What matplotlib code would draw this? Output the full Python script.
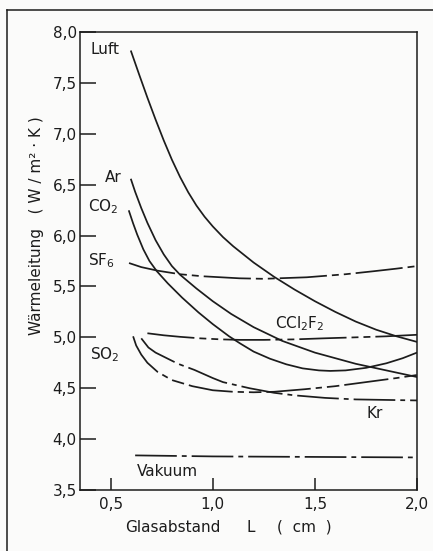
import matplotlib
matplotlib.use("Agg")
import matplotlib.pyplot as plt
from matplotlib.lines import Line2D

# values (L in cm, heat transfer in W/m2K)
luft_L = [0.60, 0.64, 0.68, 0.72, 0.76, 0.80, 0.84, 0.88, 0.92, 0.96, 1.00, 1.05, 1.10,
          1.20, 1.30, 1.40, 1.50, 1.60, 1.70, 1.80, 1.90, 2.00]
luft_v = [7.81, 7.58, 7.355, 7.14, 6.935, 6.745, 6.575, 6.425, 6.295, 6.185, 6.09, 5.985, 5.895,
          5.735, 5.595, 5.47, 5.355, 5.25, 5.155, 5.075, 5.01, 4.955]

ar_L = [0.60, 0.62, 0.65, 0.68, 0.72, 0.76, 0.80, 0.84, 0.92, 1.00, 1.09, 1.20, 1.34,
        1.50, 1.70, 1.85, 2.00]
ar_v = [6.55, 6.43, 6.27, 6.125, 5.955, 5.815, 5.70, 5.615, 5.48, 5.355, 5.23, 5.10, 4.965,
        4.85, 4.74, 4.675, 4.61]

co2_L = [0.59, 0.61, 0.63, 0.66, 0.69, 0.726, 0.78, 0.85, 0.93, 1.00, 1.08, 1.134, 1.20,
         1.28, 1.36, 1.44, 1.52, 1.575, 1.65, 1.75, 1.85, 1.93, 2.00]
co2_v = [6.24, 6.12, 6.01, 5.865, 5.75, 5.65, 5.53, 5.39, 5.245, 5.13, 5.01, 4.94, 4.86,
         4.79, 4.735, 4.695, 4.675, 4.67, 4.675, 4.70, 4.745, 4.795, 4.85]

sf6_L = [0.59, 0.65, 0.73, 0.84, 0.95, 1.13, 1.25, 1.46, 1.65, 1.79, 1.90, 2.00]
sf6_v = [5.73, 5.69, 5.655, 5.62, 5.60, 5.58, 5.575, 5.59, 5.62, 5.65, 5.675, 5.70]

ccl2f2_L = [0.68, 0.76, 0.84, 0.94, 1.04, 1.13, 1.25, 1.40, 1.54, 1.70, 1.85, 1.95, 2.00]
ccl2f2_v = [5.04, 5.02, 5.005, 4.99, 4.98, 4.975, 4.975, 4.98, 4.99, 5.00, 5.01, 5.02, 5.025]

so2_L = [0.61, 0.625, 0.65, 0.68, 0.73, 0.80, 0.90, 1.00, 1.10, 1.20, 1.30, 1.45, 1.60, 1.75, 1.90, 2.00]
so2_v = [5.01, 4.92, 4.83, 4.75, 4.66, 4.58, 4.52, 4.48, 4.465, 4.46, 4.465, 4.49, 4.52, 4.56, 4.60, 4.63]

kr_L = [0.65, 0.685, 0.72, 0.76, 0.83, 0.91, 1.00, 1.05, 1.18, 1.30, 1.40, 1.55, 1.70, 1.85, 2.00]
kr_v = [4.99, 4.90, 4.85, 4.81, 4.74, 4.68, 4.60, 4.56, 4.50, 4.455, 4.43, 4.405, 4.39, 4.385, 4.38]

vak_L = [0.62, 1.00, 1.50, 2.00]
vak_v = [3.84, 3.83, 3.825, 3.82]

x_ticks = [0.5, 1.0, 1.5, 2.0]
x_tick_labels = ["0,5", "1,0", "1,5", "2,0"]
y_ticks = [3.5, 4.0, 4.5, 5.0, 5.5, 6.0, 6.5, 7.0, 7.5, 8.0]
y_tick_labels = ["3,5", "4,0", "4,5", "5,0", "5,5", "6,0", "6,5", "7,0", "7,5", "8,0"]

ink = "#1c1c1c"
plt.rcParams["font.family"] = ["DejaVu Sans"]
plt.rcParams["lines.scale_dashes"] = False

fig = plt.figure(figsize=(4.33, 5.51), dpi=100, facecolor="#fbfbfa")
ax = fig.add_axes([80/433, 1-490/551, 337/433, 458/551])
ax.set_facecolor("#fbfbfa")

lw = 1.25
dash_dot2 = (0, (34, 3.6, 5, 3.6, 5, 3.6))
dash_so2 = (0, (32, 3.6, 4.5, 3.6, 9, 3.6))
dash_dot = (0, (30, 3.6, 3.5, 3.6))

ax.plot(luft_L, luft_v, color=ink, lw=lw)
ax.plot(ar_L, ar_v, color=ink, lw=lw)
ax.plot(co2_L, co2_v, color=ink, lw=lw)
ax.plot(sf6_L, sf6_v, color=ink, lw=lw, linestyle=dash_dot2)
ax.plot(ccl2f2_L, ccl2f2_v, color=ink, lw=lw, linestyle=dash_dot2)
ax.plot(so2_L, so2_v, color=ink, lw=lw, linestyle=dash_so2)
ax.plot(kr_L, kr_v, color=ink, lw=lw, linestyle=dash_dot)
ax.plot(vak_L, vak_v, color=ink, lw=lw, linestyle=dash_dot)

ax.set_xlim(0.35, 2.0)
ax.set_ylim(3.5, 8.0)
ax.set_xticks(x_ticks)
ax.set_xticklabels(x_tick_labels)
ax.set_yticks(y_ticks)
ax.set_yticklabels(y_tick_labels)
ax.tick_params(axis="both", direction="in", colors=ink, width=1.1, labelsize=11)
ax.tick_params(axis="y", length=11.5, pad=2.4)
ax.tick_params(axis="x", length=8.6, pad=4.8)
for s in ax.spines.values():
    s.set_color(ink)
    s.set_linewidth(1.1)

# curve labels
fs = 11
ax.text(0.399, 7.78, "Luft", fontsize=fs, color=ink)
ax.text(0.473, 6.53, "Ar", fontsize=fs, color=ink)
ax.text(0.389, 6.24, "CO$_2$", fontsize=fs, color=ink)
ax.text(0.391, 5.71, "SF$_6$", fontsize=fs, color=ink)
ax.text(0.399, 4.78, "SO$_2$", fontsize=fs, color=ink)
ax.text(1.306, 5.09, "CCl$_2$F$_2$", fontsize=fs, color=ink)
ax.text(1.755, 4.21, "Kr", fontsize=fs, color=ink)
ax.text(0.628, 3.64, "Vakuum", fontsize=fs, color=ink)

xl_y = 1 - 532/551
fig.text(125/433, xl_y, "Glasabstand", fontsize=fs, color=ink, ha="left", va="baseline")
fig.text(246/433, xl_y, "L", fontsize=fs, color=ink, ha="left", va="baseline")
fig.text(277/433, xl_y, "(  cm  )", fontsize=fs, color=ink, ha="left", va="baseline")
fig.text(37/433, 1-335/551, "Wärmeleitung   ( W / m² · K )", fontsize=fs, color=ink,
         rotation=90, ha="center", va="bottom")

# outer frame of the scanned page
fig.add_artist(Line2D([7/433, 7/433], [0, 1-10/551], transform=fig.transFigure, color=ink, lw=1.1))
fig.add_artist(Line2D([7/433, 1], [1-10/551, 1-10/551], transform=fig.transFigure, color=ink, lw=1.1))

fig.savefig("out.png", dpi=100, facecolor=fig.get_facecolor())
